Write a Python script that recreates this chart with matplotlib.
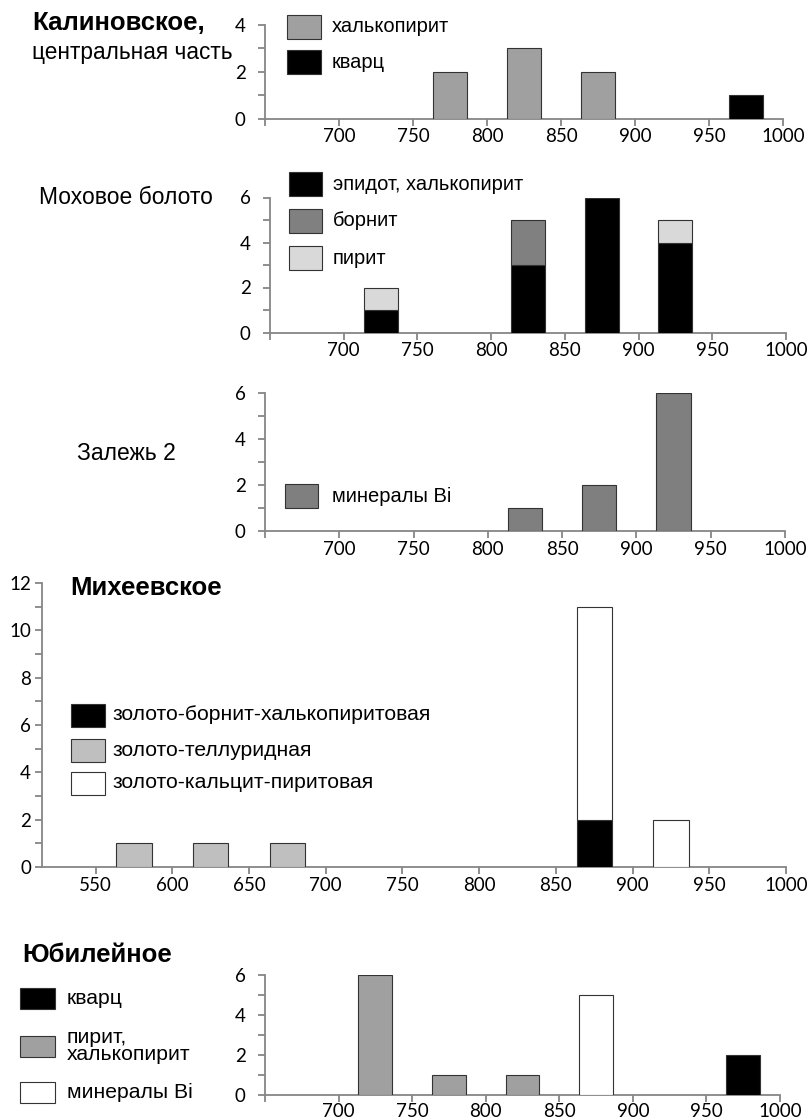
import numpy as np
import matplotlib.pyplot as plt
from matplotlib.patches import Rectangle
from matplotlib.ticker import MultipleLocator, FixedLocator

W, H = 808, 1120

# temperature bins (centres), 50-degree steps
t_main = [675, 725, 775, 825, 875, 925, 975]
t_mikh = [525, 575, 625, 675, 725, 775, 825, 875, 925, 975]

# Калиновское
kal_chalco = [0, 0, 2, 3, 2, 0, 0]
kal_quartz = [0, 0, 0, 0, 0, 0, 1]
kal_labels = ['халькопирит', 'кварц']

# Моховое болото
mokh_epidote = [0, 1, 0, 3, 6, 4, 0]
mokh_bornite = [0, 0, 0, 2, 0, 0, 0]
mokh_pyrite = [0, 1, 0, 0, 0, 1, 0]
mokh_labels = ['эпидот, халькопирит', 'борнит', 'пирит']

# Залежь 2
zal_bi = [0, 0, 0, 1, 2, 6, 0]
zal_labels = ['минералы Bi']

# Михеевское
mikh_bornite = [0, 0, 0, 0, 0, 0, 0, 2, 0, 0]
mikh_tellur = [0, 1, 1, 1, 0, 0, 0, 0, 0, 0]
mikh_calcite = [0, 0, 0, 0, 0, 0, 0, 9, 2, 0]
mikh_labels = ['золото-борнит-халькопиритовая', 'золото-теллуридная', 'золото-кальцит-пиритовая']

# Юбилейное
yub_quartz = [0, 0, 0, 0, 0, 0, 2]
yub_pyr_chalco = [0, 6, 1, 1, 0, 0, 0]
yub_bi = [0, 0, 0, 0, 5, 0, 0]
yub_labels = ['кварц', 'пирит,\nхалькопирит', 'минералы Bi']

TICKFONT = ['Lato', 'DejaVu Sans']
TEXTFONT = ['Liberation Sans', 'DejaVu Sans']
AXCOL = '#868686'
EDGE = '#333333'
BW = 23

fig = plt.figure(figsize=(W / 100, H / 100), dpi=100)
fig.patch.set_facecolor('white')


def px_axes(left, right, top, bottom):
    return fig.add_axes([left / W, 1 - bottom / H, (right - left) / W, (bottom - top) / H])


def bars(ax, t, vals, color, bottom=None):
    t = np.array(t)
    vals = np.array(vals, dtype=float)
    if bottom is None:
        bottom = np.zeros_like(vals)
    bottom = np.array(bottom, dtype=float)
    m = vals > 0
    ax.bar(t[m], vals[m], width=BW, bottom=bottom[m], color=color,
           edgecolor=EDGE, linewidth=0.8, zorder=3)


def style(ax, xmin, xticks, ymax, ymajor, ypad=9, xpad=2, hide_first=True):
    ax.set_xlim(xmin, 1000)
    ax.set_ylim(0, ymax)
    for s in ['top', 'right']:
        ax.spines[s].set_visible(False)
    for s in ['left', 'bottom']:
        ax.spines[s].set_color(AXCOL)
        ax.spines[s].set_linewidth(1.3)
    ax.xaxis.set_major_locator(FixedLocator(xticks))
    labs = [str(v) for v in xticks]
    if hide_first:
        labs[0] = ''
    ax.set_xticklabels(labs)
    ax.yaxis.set_major_locator(MultipleLocator(ymajor))
    ax.yaxis.set_minor_locator(MultipleLocator(1))
    ax.tick_params(axis='both', which='both', color=AXCOL, width=1.3, length=5,
                   direction='out', labelsize=13.5, labelcolor='black')
    ax.tick_params(axis='x', pad=xpad)
    ax.tick_params(axis='y', pad=ypad)
    for lab in ax.get_xticklabels() + ax.get_yticklabels():
        lab.set_family(TICKFONT)
    ax.patch.set_alpha(0)


def legend_box(x0, x1, yc, h, color, label, tx, size=14.5):
    fig.add_artist(Rectangle((x0 / W, 1 - (yc + h / 2) / H), (x1 - x0) / W, h / H,
                             transform=fig.transFigure, facecolor=color,
                             edgecolor=EDGE, linewidth=0.8))
    fig.text(tx / W, 1 - yc / H, label, ha='left', va='center', fontsize=size,
             family=TEXTFONT, linespacing=0.9)


def label(x, yc, s, size, bold=False):
    fig.text(x / W, 1 - yc / H, s, ha='left', va='center', fontsize=size,
             family=TEXTFONT, fontweight='bold' if bold else 'normal')


xt_main = [650, 700, 750, 800, 850, 900, 950, 1000]
xt_mikh = [550, 600, 650, 700, 750, 800, 850, 900, 950, 1000]

# Калиновское
ax1 = px_axes(265, 783, 25, 118.5)
bars(ax1, t_main, kal_chalco, '#a0a0a0')
bars(ax1, t_main, kal_quartz, 'black')
style(ax1, 650, xt_main, 4, 2)
label(32, 23, 'Калиновское,', 18.5, bold=True)
label(32, 53, 'центральная часть', 16.3)
legend_box(287, 321, 27, 23, '#a0a0a0', kal_labels[0], 332)
legend_box(287, 321, 62, 23, 'black', kal_labels[1], 332)

# Моховое болото
ax2 = px_axes(270, 786, 197.5, 332.5)
bars(ax2, t_main, mokh_epidote, 'black')
bars(ax2, t_main, mokh_bornite, '#808080', bottom=mokh_epidote)
bars(ax2, t_main, mokh_pyrite, '#d9d9d9', bottom=mokh_epidote)
style(ax2, 650, xt_main, 6, 2)
label(39, 197, 'Моховое болото', 16.5)
legend_box(289, 322, 184, 23, 'black', mokh_labels[0], 333)
legend_box(289, 322, 221, 23, '#808080', mokh_labels[1], 333)
legend_box(289, 322, 258, 23, '#d9d9d9', mokh_labels[2], 333)

# Залежь 2
ax3 = px_axes(265, 785, 393, 531)
bars(ax3, t_main, zal_bi, '#7f7f7f')
style(ax3, 650, xt_main, 6, 2)
label(77, 453, 'Залежь 2', 16.5)
legend_box(285, 318, 496, 23, '#7f7f7f', zal_labels[0], 332)

# Михеевское
ax4 = px_axes(42, 786, 583, 867)
bars(ax4, t_mikh, mikh_bornite, 'black')
bars(ax4, t_mikh, mikh_tellur, '#bfbfbf')
bars(ax4, t_mikh, mikh_calcite, 'white', bottom=mikh_bornite)
style(ax4, 515, xt_mikh, 12, 2, ypad=3, hide_first=False)
label(70, 588, 'Михеевское', 18.5, bold=True)
legend_box(71, 105, 715, 23, 'black', mikh_labels[0], 112, 15.2)
legend_box(71, 105, 750, 23, '#bfbfbf', mikh_labels[1], 112, 15.2)
legend_box(71, 105, 783, 23, 'white', mikh_labels[2], 112, 15.2)

# Юбилейное
ax5 = px_axes(265, 780, 975, 1095)
bars(ax5, t_main, yub_pyr_chalco, '#a0a0a0')
bars(ax5, t_main, yub_bi, 'white')
bars(ax5, t_main, yub_quartz, 'black')
style(ax5, 650, xt_main, 6, 2, xpad=0.5)
label(22, 955, 'Юбилейное', 18.5, bold=True)
legend_box(20, 55, 998, 21, 'black', yub_labels[0], 67, 15.2)
legend_box(20, 55, 1046, 21, '#a0a0a0', yub_labels[1], 67, 15.2)
legend_box(20, 55, 1092, 21, 'white', yub_labels[2], 67, 15.2)

fig.savefig('out.png', dpi=100)
